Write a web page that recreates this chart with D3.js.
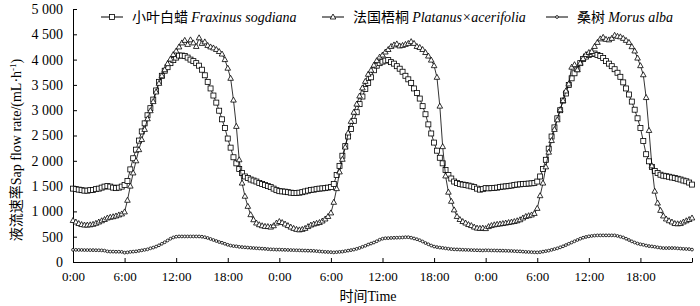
<!DOCTYPE html>
<html>
<head>
<meta charset="utf-8">
<script src="https://cdn.jsdelivr.net/npm/d3@7"></script>
<style>
  body { margin: 0; background: #fff; }
  svg { display: block; }
</style>
</head>
<body>
<svg id="chart" width="700" height="306"></svg>
<script>
// sap flow, one reading every 20 min over three days (hours 0..72)
const fraxinus = [
  1450,1440,1430,1420,1410,1410,1420,1425,1440,1450,1470,1490,1500,1490,1470,1460,1470,1490,
  1520,1600,1830,2050,2220,2400,2580,2740,2900,3040,3210,3390,3560,3680,3780,3850,3930,3990,
  4040,4080,4080,4070,4040,4000,3970,3930,3880,3800,3690,3560,3430,3290,3150,2990,2820,2650,
  2440,2260,2070,1950,1840,1760,1690,1660,1630,1610,1590,1560,1540,1520,1500,1480,1450,1420,
  1400,1395,1390,1380,1370,1365,1365,1370,1380,1395,1410,1425,1430,1440,1450,1455,1460,1470,
  1480,1540,1720,1900,2100,2290,2480,2630,2790,2960,3120,3270,3420,3540,3650,3790,3880,3930,
  3960,3980,3990,3950,3920,3870,3820,3760,3680,3610,3540,3430,3340,3230,3080,2920,2720,2540,
  2360,2200,2060,1950,1820,1720,1650,1590,1560,1540,1530,1520,1510,1495,1480,1450,1430,1440,
  1460,1455,1460,1465,1470,1480,1490,1495,1500,1510,1520,1530,1535,1540,1545,1550,1555,1560,
  1590,1690,1840,2020,2240,2480,2660,2840,3000,3190,3330,3500,3630,3730,3810,3930,4010,4060,
  4090,4110,4120,4090,4070,4030,3970,3920,3870,3810,3740,3660,3550,3430,3310,3170,3010,2840,
  2650,2390,2130,1990,1880,1800,1760,1725,1705,1695,1685,1670,1660,1645,1630,1610,1595,1570,
  1530
]
const platanus = [
  820,790,760,740,730,730,735,745,765,790,815,840,870,885,895,910,930,950,
  990,1220,1500,1760,2000,2220,2420,2620,2830,2990,3170,3360,3530,3680,3800,3920,4010,4100,
  4170,4250,4330,4380,4300,4390,4330,4260,4430,4320,4350,4280,4250,4230,4200,4160,4110,4000,
  3830,3630,3200,2680,2020,1560,1300,1100,935,835,770,737,717,704,700,690,717,770,
  800,780,750,720,690,665,645,635,645,665,700,730,750,765,780,810,850,900,
  970,1180,1450,1780,2030,2270,2550,2780,2960,3120,3280,3440,3570,3710,3790,3890,3980,4050,
  4090,4150,4200,4260,4290,4310,4270,4280,4300,4320,4355,4320,4260,4240,4200,4140,4070,3990,
  3880,3650,3080,2280,1700,1380,1200,1030,900,840,800,770,740,720,690,670,665,670,
  660,700,720,735,745,752,760,770,780,790,800,815,835,870,900,915,930,960,
  1060,1310,1560,1880,2170,2400,2620,2810,3010,3190,3380,3520,3850,3900,3800,3930,4020,4100,
  4140,4160,4260,4340,4410,4440,4400,4390,4420,4480,4460,4450,4420,4380,4340,4255,4170,4030,
  3880,3700,3250,2600,1900,1400,1165,1020,910,850,815,790,760,755,760,790,815,840,
  870
]
const morus = [
  240,240,238,238,236,236,235,235,233,232,230,225,210,205,205,203,203,200,
  185,190,200,205,210,220,230,240,250,270,285,305,330,360,390,425,460,485,
  500,505,505,505,505,505,505,505,505,500,490,475,455,435,415,395,380,360,
  340,325,315,310,300,295,290,285,280,276,272,268,264,260,255,250,248,245,
  245,242,240,238,236,234,232,230,228,226,224,222,220,215,210,205,200,198,
  195,190,195,200,205,215,225,235,245,260,278,300,320,345,365,385,410,440,
  460,470,472,475,478,480,482,485,490,490,480,465,450,430,405,375,350,325,
  305,295,285,278,270,262,255,250,248,245,242,240,238,236,234,232,230,228,
  232,230,228,228,226,225,224,222,220,218,215,212,210,205,200,198,195,192,
  190,195,205,215,225,240,255,270,290,310,335,360,385,410,435,460,480,495,
  507,515,522,526,526,526,526,526,526,526,515,500,485,460,435,408,385,365,
  350,340,325,315,308,300,290,282,275,275,276,276,275,270,265,260,257,255,
  245
]
const hours = d3.range(fraxinus.length).map(i => i / 3)
const xTicks = d3.range(0, 73, 6)
const yTicks = d3.range(0, 5001, 500)
const seriesNames = [
  ['小叶白蜡', 'Fraxinus sogdiana'],
  ['法国梧桐', 'Platanus×acerifolia'],
  ['桑树', 'Morus alba']
]

const SERIF = "'Liberation Serif', 'DejaVu Serif', serif"
const CJK = "'Noto Sans CJK SC', sans-serif"

function drawChart() {
  const svg = d3.select('#chart')
  const x = d3.scaleLinear().domain([0, 72]).range([73, 692])
  const y = d3.scaleLinear().domain([0, 5000]).range([262, 9])

  const fmtY = v => v >= 1000 ? String(Math.floor(v / 1000)) + ' ' + d3.format('03d')(v % 1000) : String(v)

  const yAxis = svg.append('g')
    .attr('transform', 'translate(73,0)')
    .call(d3.axisLeft(y).tickValues(yTicks).tickFormat(fmtY)
      .tickSizeInner(-4).tickSizeOuter(0).tickPadding(10))
  yAxis.attr('font-family', SERIF).attr('font-size', 14)
  yAxis.selectAll('text').attr('fill', '#000')

  const xAxis = svg.append('g')
    .attr('transform', 'translate(0,262)')
    .call(d3.axisBottom(x).tickValues(xTicks)
      .tickFormat(h => h === 72 ? '' : (h % 24) + ':00')
      .tickSizeInner(-4).tickSizeOuter(0).tickPadding(10))
  xAxis.attr('font-family', SERIF).attr('font-size', 13)
  xAxis.selectAll('text').attr('fill', '#000')

  svg.selectAll('.domain, .tick line').attr('stroke', '#000').attr('stroke-width', 1)

  // axis titles
  const xt = svg.append('text')
    .attr('x', 368).attr('y', 301)
    .attr('text-anchor', 'middle')
    .attr('font-family', SERIF)
    .attr('font-size', 14)
  xt.append('tspan').attr('font-family', CJK).text('时间')
  xt.append('tspan').text('Time')

  const yt = svg.append('text')
    .attr('transform', 'translate(21,150) rotate(-90)')
    .attr('text-anchor', 'middle')
    .attr('font-family', SERIF)
    .attr('font-size', 14)
  yt.append('tspan').attr('font-family', CJK).text('液流速率')
  yt.append('tspan').text('Sap flow rate/(mL·h')
  yt.append('tspan').attr('dy', -5).attr('font-size', 9).text('-1')
  yt.append('tspan').attr('dy', 5).text(')')

  const line = d3.line().x((d, i) => x(hours[i])).y(d => y(d))

  const series = [
    { data: fraxinus, shape: 'square' },
    { data: platanus, shape: 'triangle' },
    { data: morus, shape: 'circle' }
  ]

  function marker(sel, shape) {
    if (shape === 'square') {
      sel.append('rect').attr('x', -2.5).attr('y', -2.5).attr('width', 5).attr('height', 5)
    } else if (shape === 'triangle') {
      sel.append('path').attr('d', 'M0,-3L2.8,2L-2.8,2Z')
    } else {
      sel.append('circle').attr('r', 1.4)
    }
    sel.selectAll('rect,path,circle')
      .attr('fill', '#fff').attr('stroke', '#000').attr('stroke-width', 0.8)
  }

  series.forEach(s => {
    const g = svg.append('g')
    g.append('path')
      .datum(s.data)
      .attr('d', line)
      .attr('fill', 'none')
      .attr('stroke', '#000')
      .attr('stroke-width', 0.8)
    g.selectAll('g.m')
      .data(s.data)
      .join('g')
      .attr('class', 'm')
      .attr('transform', (d, i) => `translate(${x(hours[i])},${y(d)})`)
      .each(function() { marker(d3.select(this), s.shape) })
  })

  // legend
  const legX = [101, 322, 546]
  seriesNames.forEach((nm, i) => {
    const lg = svg.append('g').attr('transform', `translate(${legX[i]},17)`)
    lg.append('line').attr('x1', 0).attr('x2', 22).attr('stroke', '#000').attr('stroke-width', 1)
    const m = lg.append('g').attr('transform', 'translate(11,0)')
    marker(m, series[i].shape)
    const t = lg.append('text').attr('x', 31).attr('y', 5)
      .attr('font-family', SERIF).attr('font-size', 14)
    t.append('tspan').attr('font-family', CJK).text(nm[0] + ' ')
    t.append('tspan').attr('font-style', 'italic').text(nm[1])
  })
}

document.addEventListener('DOMContentLoaded', drawChart, false)
</script>
</body>
</html>
